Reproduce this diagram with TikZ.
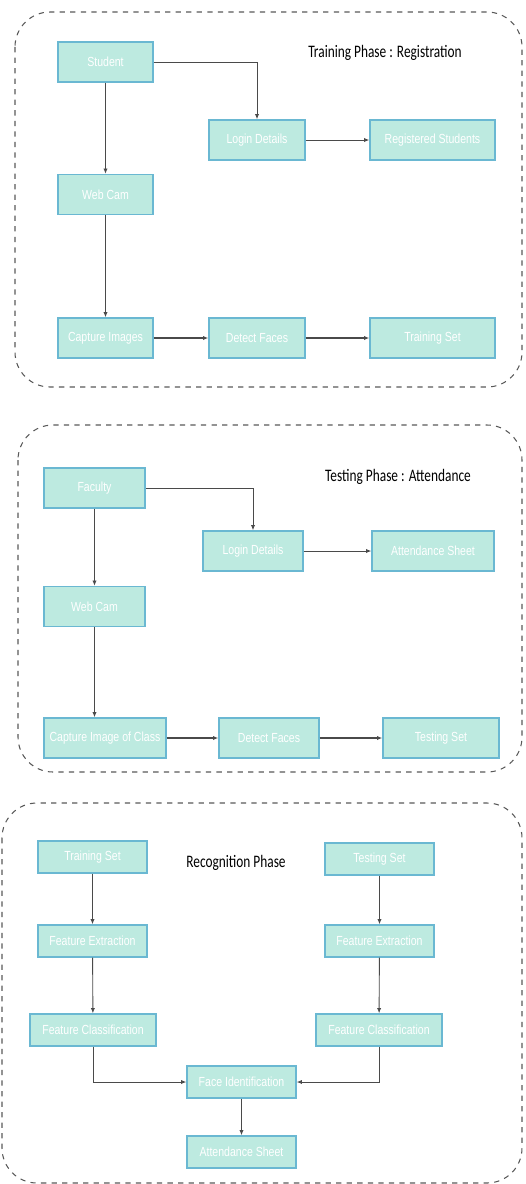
\documentclass[tikz,border=0pt]{standalone}
\usepackage{fontspec}
\setmainfont{Carlito}
\newfontfamily\boxfont[FakeStretch=0.8]{Liberation Sans}
\newfontfamily\titlefont[FakeStretch=0.76]{Carlito}
\usetikzlibrary{arrows.meta}
\definecolor{boxfill}{HTML}{BDEAE0}
\definecolor{boxline}{HTML}{6AB8D2}
\definecolor{flowgray}{HTML}{4A4A4A}
\tikzset{
  stage/.style={draw=boxline, fill=boxfill, line width=0.8pt, text=white,
    font=\boxfont\fontsize{7.5}{9}\selectfont, inner sep=0pt, minimum height=0.8cm},
  flow/.style={draw=flowgray, line width=0.5pt, -{Latex[length=3pt,width=2.4pt]}},
  heavyflow/.style={flow, line width=0.9pt},
  phase/.style={draw=black!65, dashed, line width=0.6pt, rounded corners=0.7cm},
  caption/.style={font=\titlefont\fontsize{10}{12}\selectfont}
}
\begin{document}
\begin{tikzpicture}[x=0.02cm,y=-0.02cm]
\useasboundingbox (0,0) rectangle (525,1184);
% training phase
\draw[phase] (15,12) rectangle (522,387);
\node[caption] (title1) at (385,53) {Training Phase : Registration};
\node[stage,minimum width=1.9cm] (student) at (105.5,62) {Student};
\node[stage,minimum width=1.92cm] (login1) at (257,140) {Login Details};
\node[stage,minimum width=2.5cm] (registered) at (432.5,140) {Registered Students};
\node[stage,minimum width=1.9cm] (webcam1) at (105.5,194.5) {Web Cam};
\node[stage,minimum width=1.9cm] (capture1) at (105.5,338) {Capture Images};
\node[stage,minimum width=1.92cm] (detect1) at (257,338) {Detect Faces};
\node[stage,minimum width=2.5cm] (trainset1) at (432.5,338) {Training Set};
\draw[flow] (student.east) -| (login1.north);
\draw[flow] (login1) -- (registered);
\draw[flow] (student) -- (webcam1);
\draw[flow] (webcam1) -- (capture1);
\draw[heavyflow] (capture1) -- (detect1);
\draw[heavyflow] (detect1) -- (trainset1);
% testing phase
\draw[phase] (18,425) rectangle (522,772);
\node[caption] (title2) at (398,477) {Testing Phase : Attendance};
\node[stage,minimum width=2.02cm] (faculty) at (94.5,488) {Faculty};
\node[stage,minimum width=2cm] (login2) at (253,551) {Login Details};
\node[stage,minimum width=2.44cm] (sheet2) at (433,551) {Attendance Sheet};
\node[stage,minimum width=2.02cm] (webcam2) at (94.5,606.5) {Web Cam};
\node[stage,minimum width=2.44cm] (capture2) at (105,738) {Capture Image of Class};
\node[stage,minimum width=2cm] (detect2) at (269,738) {Detect Faces};
\node[stage,minimum width=2.32cm] (testset2) at (441,738) {Testing Set};
\draw[flow] (faculty.east) -| (login2.north);
\draw[flow] (login2) -- (sheet2);
\draw[flow] (faculty.south -| webcam2.north) -- (webcam2);
\draw[flow] (webcam2.south) -- (webcam2.south |- capture2.north);
\draw[heavyflow] (capture2) -- (detect2);
\draw[heavyflow] (detect2) -- (testset2);
% recognition phase
\draw[phase] (2,803) rectangle (522,1183);
\node[caption] (title3) at (236,863) {Recognition Phase};
\node[stage,minimum width=2.18cm,minimum height=0.64cm] (trainset3) at (92.5,857) {Training Set};
\node[stage,minimum width=2.18cm,minimum height=0.64cm] (testset3) at (379.5,859) {Testing Set};
\node[stage,minimum width=2.18cm,minimum height=0.64cm] (extractl) at (92.5,941) {Feature Extraction};
\node[stage,minimum width=2.18cm,minimum height=0.64cm] (extractr) at (379.5,941) {Feature Extraction};
\node[stage,minimum width=2.52cm,minimum height=0.64cm] (classl) at (93,1030) {Feature Classification};
\node[stage,minimum width=2.52cm,minimum height=0.64cm] (classr) at (379,1030) {Feature Classification};
\node[stage,minimum width=2.18cm,minimum height=0.64cm] (faceid) at (241.5,1082) {Face Identification};
\node[stage,minimum width=2.18cm,minimum height=0.64cm] (sheet3) at (241.5,1152) {Attendance Sheet};
\draw[flow] (trainset3) -- (extractl);
\draw[flow] (testset3) -- (extractr);
\draw[flow] (extractl) -- (classl);
\draw[flow] (extractr) -- (classr);
\draw[flow] (classl.south) |- (faceid.west);
\draw[flow] (classr.south) |- (faceid.east);
\draw[flow] (faceid) -- (sheet3);
\end{tikzpicture}
\end{document}
